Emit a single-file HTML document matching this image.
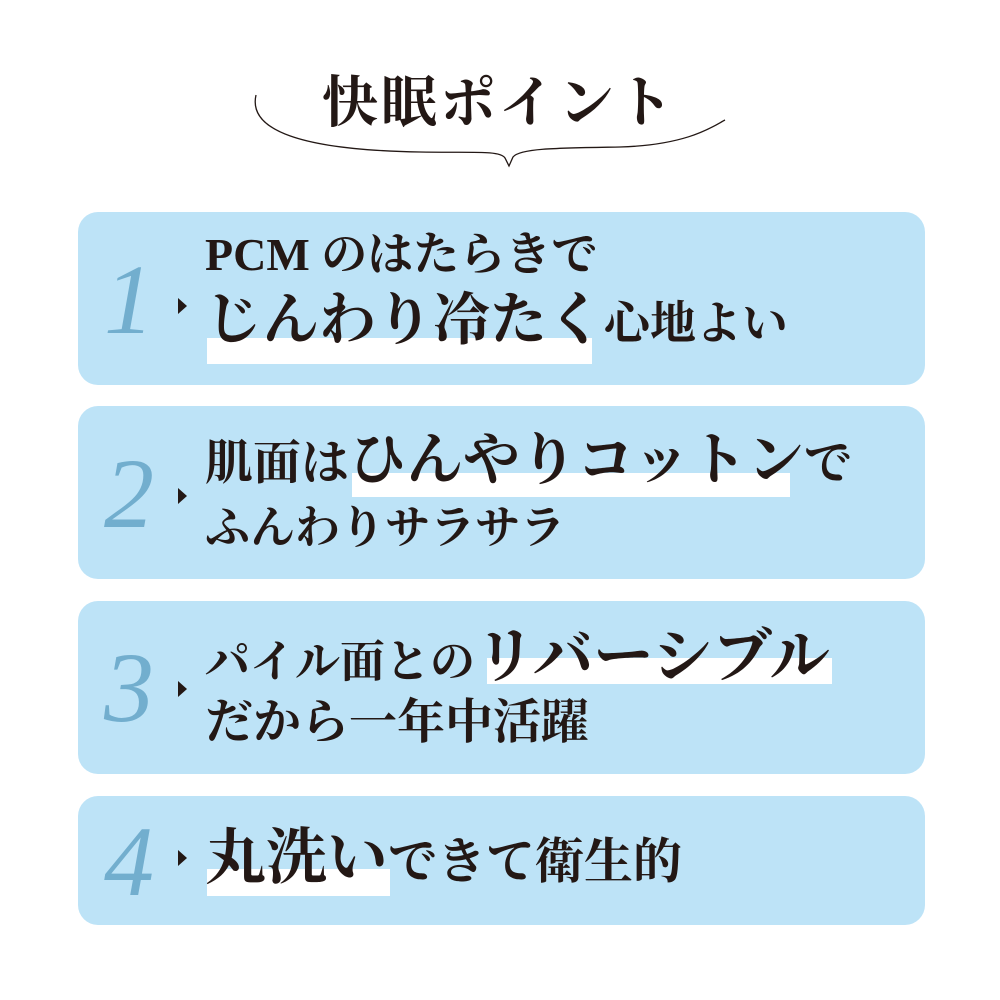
<!DOCTYPE html>
<html><head><meta charset="utf-8"><style>
body{margin:0;width:1000px;height:1000px;background:#fff;position:relative;overflow:hidden;font-family:"Liberation Serif","Noto Serif CJK JP","Noto Serif CJK SC",serif;color:#231815}
.box{position:absolute;left:78px;width:847px;background:#bde3f7;border-radius:20px}
.hl{position:absolute;background:#fff}
.t{position:absolute;line-height:1;white-space:nowrap;font-weight:bold}
.n{position:absolute;font-family:"Liberation Serif",serif;font-style:italic;color:#72aece;font-size:100px;line-height:1}
.ar{position:absolute;width:0;height:0;border-top:8px solid transparent;border-bottom:8px solid transparent;border-left:9px solid #231815}
</style></head><body>
<svg style="position:absolute;left:0;top:0" width="1000" height="200">
<path d="M256,95 C248,130 300,150 420,152 C470,153 500,150 505,158 L509,166 L513,157 C520,148 560,148 620,147 C690,145 715,125 725,120" fill="none" stroke="#231815" stroke-width="1.3"/>
</svg>
<div class="t" style="left:322px;top:76px;font-size:56px;letter-spacing:3px">快眠ポイント</div>

<div class="box" style="top:212px;height:173px"></div>
<div class="box" style="top:406px;height:173px"></div>
<div class="box" style="top:601px;height:173px"></div>
<div class="box" style="top:796px;height:129px"></div>

<div class="hl" style="left:207px;top:338px;width:385px;height:26px"></div>
<div class="hl" style="left:352px;top:473px;width:438px;height:24px"></div>
<div class="hl" style="left:487px;top:658px;width:345px;height:26px"></div>
<div class="hl" style="left:207px;top:869px;width:183px;height:27px"></div>

<div class="n" style="left:104px;top:250px">1</div>
<div class="n" style="left:104px;top:444px">2</div>
<div class="n" style="left:104px;top:638px">3</div>
<div class="n" style="left:104px;top:812px">4</div>
<div class="ar" style="left:178px;top:298px"></div>
<div class="ar" style="left:178px;top:488px"></div>
<div class="ar" style="left:178px;top:681px"></div>
<div class="ar" style="left:178px;top:850px"></div>

<div class="t" style="left:205px;top:232px;font-size:46px">PCM のはたらきで</div>
<div class="t" style="left:205px;top:292px;font-size:57px">じんわり冷たく<span style="font-size:46px">心地よい</span></div>

<div class="t" style="left:205px;top:432px;font-size:48px">肌面は<span style="font-size:57px">ひんやりコットン</span>で</div>
<div class="t" style="left:205px;top:506px;font-size:45px">ふんわりサラサラ</div>

<div class="t" style="left:205px;top:627px;font-size:45px">パイル面との<span style="font-size:60px">リバーシブル</span></div>
<div class="t" style="left:205px;top:699px;font-size:48px">だから一年中活躍</div>

<div class="t" style="left:205px;top:828px;font-size:61px">丸洗い<span style="font-size:49px">できて衛生的</span></div>
</body></html>
